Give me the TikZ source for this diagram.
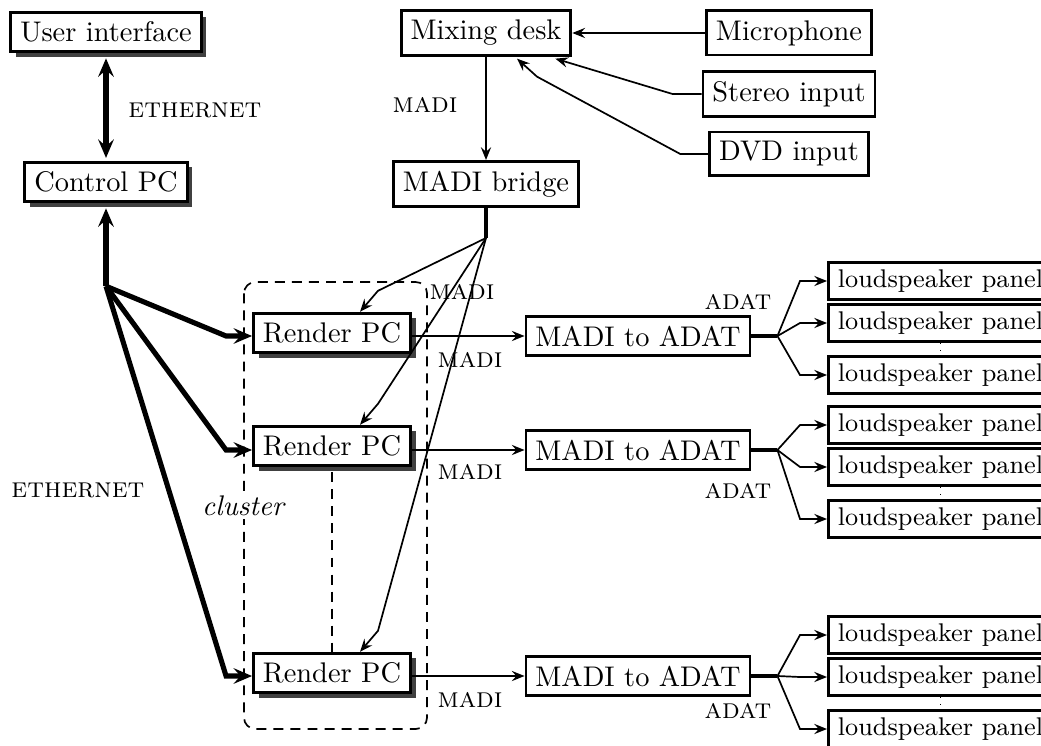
\documentclass[tikz,border=0pt]{standalone}
\usepackage{amsmath}
\usepackage{tikz}
\usetikzlibrary{positioning,arrows.meta,shadows,calc}

\tikzset{
	box/.style={draw, line width=1pt, rectangle, fill=white},
	shadowbox/.style={box, drop shadow={shadow xshift=1.8pt, shadow yshift=-1.8pt, fill=black!75, opacity=1}},
	panel/.style={draw, line width=1pt, fill=white, font=\small, inner ysep=2pt, minimum height=13.2pt, anchor=west},
	lbl/.style={font=\scshape},
	sig/.style={-{Stealth[length=4.5pt, width=3.6pt, inset=1.6pt]}, semithick},
	net/.style={line width=1.8pt},
	nettip/.tip={Stealth[length=6.5pt, width=5.5pt, inset=2.4pt]},
	clusterline/.style={semithick, dash pattern=on 3.5pt off 2.5pt},
}

\begin{document}
\begin{tikzpicture}[x=0.3521pt, y=-0.3521pt]
		\useasboundingbox (0,0) rectangle (1041,745);

		\draw[clusterline, rounded corners=4pt] (244,282) rectangle (427,729);
		\node[fill=white, inner sep=1pt] (clusterlbl) at (244,506) {\emph{cluster}};

		\node[shadowbox] (ui) at (106,32) {User interface};
		\node[shadowbox] (ctrl) at (106,182) {Control PC};

		\node[box] (mix) at (486,33) {Mixing desk};
		\node[box] (mic) at (789,33) {Microphone};
		\node[box] (stereo) at (789,94) {Stereo input};
		\node[box] (dvd) at (789,154) {DVD input};
		\node[box] (bridge) at (486,184) {MADI bridge};

		\foreach \i/\ry/\my in {1/333/336, 2/446/450, 3/673/676}{
			\node[shadowbox] (rpc\i) at (332,\ry) {Render PC};
			\node[box] (m2a\i) at (638,\my) {MADI to ADAT};
		}

		\foreach \i/\py in {1/281, 2/425, 3/635}{
			\node[panel] (p\i a) at (827,\py) {loudspeaker panel};
			\node[panel] (p\i b) at ($(p\i a.west)+(0,42)$) {loudspeaker panel};
			\node[panel] (p\i c) at ($(p\i b.west)+(0,52)$) {loudspeaker panel};
			\draw[dotted] (p\i b) -- (p\i c);
		}

		\draw[net, nettip-nettip, shorten <=1.8pt, shorten >=1pt] (ui) -- (ctrl);
		\node[lbl] (ethlbl1) at (195,110) {ethernet};
		\coordinate (hub) at ($(ctrl.south)+(0,83)$);
		\draw[net, nettip-, shorten <=1.8pt] (ctrl.south) -- (hub);
		\node[lbl] (ethlbl2) at (78,490) {ethernet};

		\draw[sig] (mic) -- (mix);
		\draw[sig] (stereo.west) -- ++(-29,0) -- ($(mix.south east)+(-17,2)$);
		\draw[sig] (dvd.west) -- ++(-28,0) -- ($(mix.south)+(51,20)$) -- ($(mix.south)+(31,2)$);
		\draw[sig] (mix) -- (bridge);
		\node[lbl] (madilbl) at (425,105) {madi};

		\coordinate (split) at ($(bridge.south)+(0,30)$);
		\draw[very thick] (bridge) -- (split);
		\node[lbl] (madilbl0) at (462,292) {madi};

		\foreach \i/\ly/\ay in {1/360/302, 2/472/491, 3/700/711}{
			\draw[net, -nettip] (hub) -- ($(rpc\i.west |- m2a\i.west)+(-26,0)$) -- (rpc\i.west |- m2a\i.west);
			\draw[sig] (split) -- ($(rpc\i.north)+(46,-21)$) -- ($(rpc\i.north)+(28,0)$);
			\draw[sig] (rpc\i.east |- m2a\i.west) -- (m2a\i.west);
			\node[lbl] (madilbl\i) at (470,\ly) {madi};
			\node[lbl] (adatlbl\i) at (738,\ay) {adat};
			\coordinate (j\i) at ($(m2a\i.east)+(26,0)$);
			\draw[very thick] (m2a\i) -- (j\i);
			\foreach \k in {a,b,c}
				\draw[sig] (j\i) -- ($(p\i\k.west)+(-27,0)$) -- (p\i\k.west);
		}

		\draw[clusterline, shorten <=1.8pt] (rpc2) -- (rpc3);
	\end{tikzpicture}
\end{document}
